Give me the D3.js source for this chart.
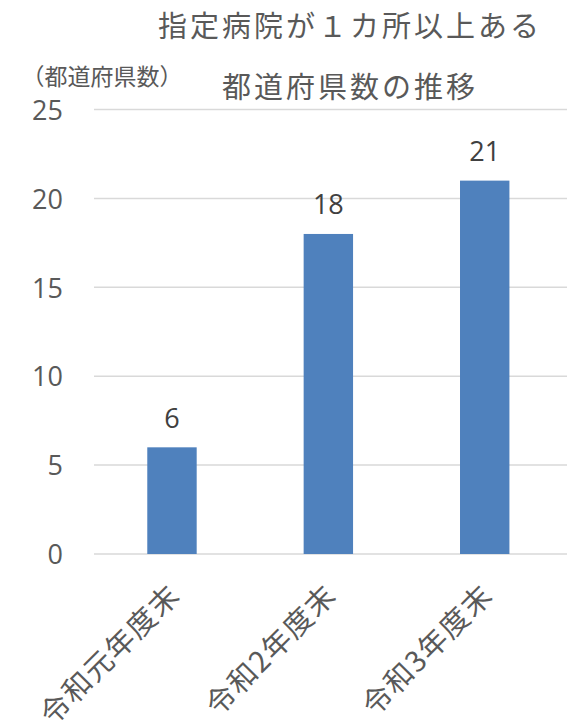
<!DOCTYPE html>
<html>
<head>
<meta charset="utf-8">
<script src="https://cdn.jsdelivr.net/npm/d3@7"></script>
<style>
  html, body { margin: 0; padding: 0; background: #fff; }
  svg { display: block; }
</style>
</head>
<body>
<svg id="chart" width="567" height="727"></svg>
<script>
const categories = ["令和元年度末", "令和2年度末", "令和3年度末"];
const values = [6, 18, 21];
const yTicks = [0, 5, 10, 15, 20, 25];
const titleLines = ["指定病院が１カ所以上ある", "都道府県数の推移"];
const yAxisLabel = "（都道府県数）";

const W = 567, H = 727;
const svg = d3.select("#chart");
const jpFont = "'Noto Sans CJK JP', 'Noto Sans', sans-serif";
const numFont = "'Open Sans', 'Noto Sans', sans-serif";
const textColor = "#595959";

const x = d3.scaleBand()
  .domain(categories)
  .range([93.8, 562.9])
  .paddingInner(0.684)
  .paddingOuter(0.342);

const y = d3.scaleLinear()
  .domain([0, 25])
  .range([554, 109.5]);

// gridlines
svg.append("g")
  .selectAll("line")
  .data(yTicks)
  .join("line")
  .attr("x1", 94)
  .attr("x2", W)
  .attr("y1", d => y(d))
  .attr("y2", d => y(d))
  .attr("stroke", "#d9d9d9")
  .attr("stroke-width", 1.5);

// y axis tick labels
const yAxis = d3.axisLeft(y).tickValues(yTicks).tickSize(0).tickPadding(0);
const yg = svg.append("g").attr("transform", "translate(63,0)").call(yAxis);
yg.select(".domain").remove();
yg.selectAll("text")
  .attr("font-family", numFont)
  .attr("font-size", 27)
  .attr("fill", textColor)
  .attr("x", 0)
  .attr("dy", "0.36em");

// bars
svg.append("g")
  .selectAll("rect")
  .data(values)
  .join("rect")
  .attr("x", (d, i) => x(categories[i]))
  .attr("width", x.bandwidth())
  .attr("y", d => y(d))
  .attr("height", d => y(0) - y(d))
  .attr("fill", "#4f81bd");

// data labels
svg.append("g")
  .selectAll("text")
  .data(values)
  .join("text")
  .attr("x", (d, i) => x(categories[i]) + x.bandwidth() / 2)
  .attr("y", d => y(d) - 19.5)
  .attr("text-anchor", "middle")
  .attr("font-family", numFont)
  .attr("font-size", 27)
  .attr("fill", "#404040")
  .text(d => d);

// x axis labels (rotated)
const xAxis = d3.axisBottom(x).tickSize(0).tickPadding(0);
const xg = svg.append("g").attr("transform", `translate(0,${y(0)})`).call(xAxis);
xg.select(".domain").remove();
xg.selectAll("text")
  .attr("font-family", jpFont)
  .attr("font-size", 29)
  .attr("fill", textColor)
  .attr("text-anchor", "end")
  .attr("y", 0)
  .attr("dy", 0)
  .attr("transform", "translate(10,43) rotate(-45)")
  .attr("letter-spacing", "1.5px");

// titles
svg.append("text")
  .attr("x", 350)
  .attr("y", 37)
  .attr("text-anchor", "middle")
  .attr("font-family", jpFont)
  .attr("font-size", 29)
  .attr("letter-spacing", "3px")
  .attr("fill", textColor)
  .text(titleLines[0]);
svg.append("text")
  .attr("x", 350)
  .attr("y", 98)
  .attr("text-anchor", "middle")
  .attr("font-family", jpFont)
  .attr("font-size", 29)
  .attr("letter-spacing", "3px")
  .attr("fill", textColor)
  .text(titleLines[1]);

// y axis label
svg.append("text")
  .attr("x", 102)
  .attr("y", 85)
  .attr("text-anchor", "middle")
  .attr("font-family", jpFont)
  .attr("font-size", 23)
  .attr("fill", textColor)
  .text(yAxisLabel);
</script>
</body>
</html>
